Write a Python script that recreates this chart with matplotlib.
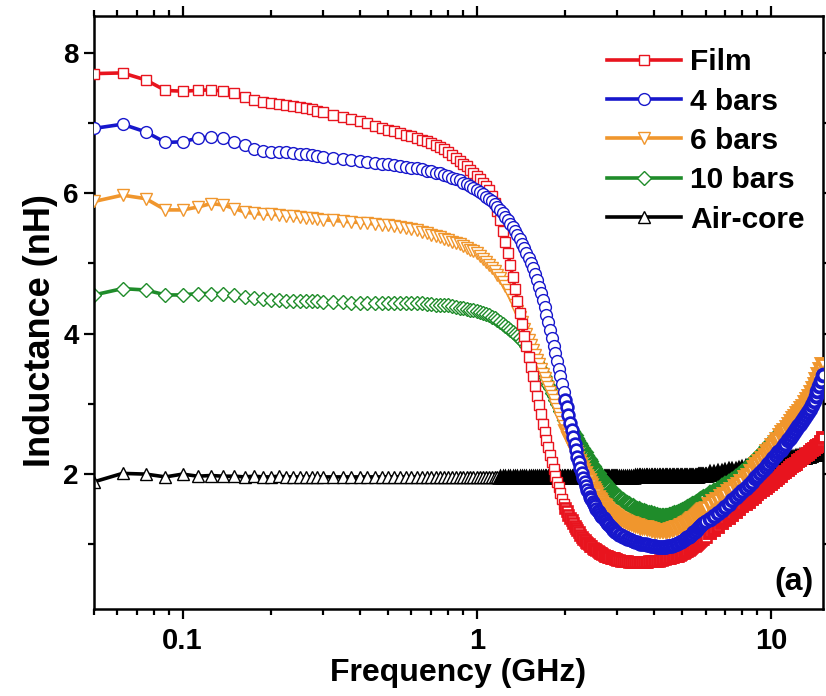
import numpy as np
import matplotlib
matplotlib.use("Agg")
import matplotlib.pyplot as plt
from matplotlib.ticker import FixedLocator, NullFormatter, LogLocator

# Frequency sweep (GHz), split into bands with their own step sizes
freq_low = np.round(np.concatenate([np.arange(0.05, 0.30001, 0.0125),    # 21
                                    np.arange(0.325, 0.60001, 0.025)]), 4)  # 12
freq_mid = np.round(np.arange(0.625, 3.00001, 0.025), 4)                 # 96
freq_dip = np.round(np.arange(3.05, 6.00001, 0.05), 4)                   # 60
freq_high = np.round(np.arange(6.2, 15.0001, 0.2), 4)                    # 45

series_names = ["Film", "4 bars", "6 bars", "10 bars", "Air-core"]

# ---- Film ----
film_low = [7.70, 7.71, 7.61, 7.46, 7.45, 7.46, 7.47, 7.45, 7.42, 7.37, 7.32, 7.30, 7.28, 7.27, 7.26, 7.24, 7.22, 7.21, 7.19, 7.17, 7.15,
            7.11, 7.08, 7.05, 7.02, 6.99, 6.96, 6.93, 6.90, 6.88, 6.86, 6.83, 6.81]
film_mid = [6.79, 6.76, 6.74, 6.71, 6.68, 6.65, 6.62, 6.58, 6.54, 6.50,
            6.46, 6.42, 6.38, 6.33, 6.29, 6.24, 6.20, 6.15, 6.10, 6.04,
            5.96, 5.86, 5.74, 5.61, 5.46, 5.31, 5.15, 4.98, 4.81, 4.64,
            4.47, 4.30, 4.13, 3.97, 3.82, 3.67, 3.53, 3.39, 3.25, 3.11,
            2.98, 2.85, 2.72, 2.60, 2.49, 2.38, 2.27, 2.17, 2.07, 1.98,
            1.89, 1.81, 1.73, 1.65, 1.58, 1.52, 1.47, 1.42, 1.38, 1.34,
            1.30, 1.26, 1.23, 1.20, 1.17, 1.14, 1.11, 1.08, 1.06, 1.04,
            1.02, 1.00, 0.98, 0.97, 0.95, 0.94, 0.93, 0.92, 0.91, 0.89,
            0.88, 0.87, 0.86, 0.85, 0.84, 0.84, 0.83, 0.82, 0.82, 0.81,
            0.81, 0.80, 0.80, 0.79, 0.79, 0.78]
film_dip = [0.78, 0.77, 0.77, 0.76, 0.76, 0.75, 0.75, 0.75, 0.75, 0.75,
            0.75, 0.75, 0.75, 0.75, 0.75, 0.75, 0.76, 0.76, 0.76, 0.76,
            0.77, 0.77, 0.77, 0.78, 0.78, 0.79, 0.79, 0.80, 0.80, 0.81,
            0.81, 0.82, 0.82, 0.83, 0.83, 0.84, 0.84, 0.85, 0.86, 0.87,
            0.88, 0.89, 0.90, 0.91, 0.92, 0.93, 0.95, 0.96, 0.97, 0.98,
            0.99, 1.00, 1.02, 1.03, 1.05, 1.06, 1.07, 1.08, 1.10, 1.11]
film_high = [1.16, 1.21, 1.25, 1.30, 1.34, 1.38, 1.42, 1.46, 1.50, 1.54,
             1.57, 1.61, 1.64, 1.68, 1.71, 1.74, 1.77, 1.80, 1.83, 1.86,
             1.89, 1.92, 1.95, 1.98, 2.01, 2.03, 2.06, 2.08, 2.11, 2.13,
             2.15, 2.18, 2.20, 2.23, 2.25, 2.27, 2.29, 2.31, 2.34, 2.36,
             2.38, 2.40, 2.42, 2.46, 2.52]

# ---- 4 bars ----
bars4_low = [6.92, 6.98, 6.87, 6.72, 6.73, 6.78, 6.80, 6.78, 6.73, 6.68, 6.62, 6.60, 6.59, 6.59, 6.58, 6.57, 6.56, 6.55, 6.54, 6.53, 6.52,
             6.50, 6.48, 6.47, 6.45, 6.44, 6.43, 6.42, 6.41, 6.40, 6.38, 6.37, 6.36]
bars4_mid = [6.35, 6.34, 6.32, 6.31, 6.29, 6.28, 6.26, 6.24, 6.22, 6.20,
             6.18, 6.15, 6.13, 6.10, 6.07, 6.04, 6.01, 5.98, 5.95, 5.92,
             5.88, 5.84, 5.80, 5.76, 5.71, 5.66, 5.61, 5.56, 5.51, 5.46,
             5.40, 5.34, 5.28, 5.22, 5.15, 5.08, 5.01, 4.93, 4.85, 4.76,
             4.67, 4.58, 4.48, 4.38, 4.27, 4.16, 4.05, 3.94, 3.83, 3.72,
             3.61, 3.50, 3.39, 3.28, 3.17, 3.06, 2.95, 2.84, 2.73, 2.63,
             2.53, 2.43, 2.34, 2.25, 2.17, 2.09, 2.02, 1.95, 1.89, 1.83,
             1.78, 1.73, 1.68, 1.64, 1.60, 1.57, 1.54, 1.51, 1.48, 1.46,
             1.43, 1.41, 1.39, 1.37, 1.35, 1.33, 1.31, 1.29, 1.27, 1.25,
             1.23, 1.21, 1.20, 1.18, 1.17, 1.16]
bars4_dip = [1.14, 1.13, 1.11, 1.10, 1.08, 1.07, 1.06, 1.05, 1.04, 1.03,
             1.02, 1.01, 1.01, 1.00, 1.00, 0.99, 0.99, 0.98, 0.98, 0.97,
             0.97, 0.96, 0.96, 0.96, 0.96, 0.96, 0.96, 0.96, 0.97, 0.97,
             0.98, 0.98, 0.99, 0.99, 1.00, 1.01, 1.02, 1.03, 1.04, 1.05,
             1.06, 1.07, 1.09, 1.10, 1.11, 1.12, 1.14, 1.15, 1.17, 1.18,
             1.20, 1.21, 1.23, 1.24, 1.26, 1.27, 1.29, 1.30, 1.32, 1.33]
bars4_high = [1.36, 1.40, 1.44, 1.49, 1.53, 1.58, 1.63, 1.67, 1.72, 1.76,
              1.80, 1.85, 1.89, 1.94, 1.98, 2.02, 2.06, 2.10, 2.15, 2.19,
              2.23, 2.27, 2.31, 2.35, 2.39, 2.43, 2.48, 2.52, 2.56, 2.60,
              2.64, 2.68, 2.72, 2.76, 2.80, 2.84, 2.88, 2.93, 2.98, 3.04,
              3.11, 3.18, 3.25, 3.33, 3.41]

# ---- 6 bars ----
bars6_low = [5.88, 5.97, 5.92, 5.76, 5.76, 5.80, 5.85, 5.83, 5.78, 5.73, 5.71, 5.70, 5.70, 5.69, 5.68, 5.67, 5.66, 5.65, 5.64, 5.63, 5.62,
             5.61, 5.60, 5.59, 5.58, 5.57, 5.56, 5.55, 5.54, 5.53, 5.51, 5.50, 5.49]
bars6_mid = [5.47, 5.45, 5.43, 5.41, 5.39, 5.37, 5.35, 5.33, 5.31, 5.29,
             5.27, 5.24, 5.22, 5.19, 5.17, 5.14, 5.10, 5.06, 5.02, 4.98,
             4.94, 4.89, 4.84, 4.79, 4.73, 4.68, 4.62, 4.55, 4.48, 4.40,
             4.32, 4.24, 4.16, 4.07, 3.99, 3.91, 3.84, 3.77, 3.70, 3.63,
             3.56, 3.50, 3.43, 3.37, 3.30, 3.24, 3.17, 3.11, 3.05, 2.98,
             2.92, 2.86, 2.80, 2.74, 2.68, 2.62, 2.57, 2.52, 2.47, 2.42,
             2.37, 2.32, 2.28, 2.23, 2.19, 2.14, 2.10, 2.06, 2.02, 1.98,
             1.95, 1.91, 1.87, 1.84, 1.80, 1.77, 1.74, 1.71, 1.68, 1.65,
             1.63, 1.60, 1.58, 1.56, 1.54, 1.52, 1.50, 1.48, 1.47, 1.46,
             1.44, 1.43, 1.42, 1.41, 1.40, 1.39]
bars6_dip = [1.38, 1.36, 1.35, 1.33, 1.32, 1.31, 1.30, 1.29, 1.28, 1.27,
             1.26, 1.25, 1.25, 1.24, 1.24, 1.23, 1.23, 1.22, 1.22, 1.21,
             1.21, 1.21, 1.20, 1.20, 1.20, 1.20, 1.20, 1.20, 1.21, 1.21,
             1.22, 1.22, 1.23, 1.23, 1.24, 1.24, 1.25, 1.26, 1.27, 1.28,
             1.29, 1.30, 1.31, 1.32, 1.33, 1.34, 1.36, 1.37, 1.38, 1.39,
             1.41, 1.42, 1.43, 1.44, 1.46, 1.47, 1.49, 1.50, 1.51, 1.52]
bars6_high = [1.56, 1.60, 1.63, 1.67, 1.70, 1.74, 1.77, 1.81, 1.85, 1.89,
              1.94, 1.98, 2.03, 2.08, 2.13, 2.17, 2.22, 2.26, 2.31, 2.35,
              2.40, 2.44, 2.49, 2.54, 2.58, 2.62, 2.66, 2.70, 2.74, 2.78,
              2.81, 2.85, 2.88, 2.92, 2.96, 3.01, 3.06, 3.10, 3.16, 3.21,
              3.27, 3.34, 3.41, 3.48, 3.55]

# ---- 10 bars ----
bars10_low = [4.55, 4.64, 4.62, 4.55, 4.55, 4.57, 4.57, 4.57, 4.55, 4.52, 4.50, 4.49, 4.48, 4.48, 4.47, 4.47, 4.47, 4.46, 4.46, 4.46, 4.45,
              4.45, 4.45, 4.44, 4.44, 4.44, 4.44, 4.44, 4.44, 4.44, 4.44, 4.43, 4.43]
bars10_mid = [4.43, 4.43, 4.42, 4.42, 4.41, 4.41, 4.40, 4.40, 4.39, 4.38,
              4.37, 4.36, 4.35, 4.34, 4.33, 4.32, 4.31, 4.29, 4.28, 4.26,
              4.24, 4.22, 4.20, 4.17, 4.14, 4.11, 4.08, 4.05, 4.02, 3.99,
              3.96, 3.93, 3.90, 3.86, 3.82, 3.78, 3.74, 3.69, 3.65, 3.60,
              3.55, 3.49, 3.44, 3.38, 3.33, 3.27, 3.22, 3.16, 3.11, 3.05,
              3.00, 2.95, 2.90, 2.86, 2.81, 2.77, 2.73, 2.69, 2.66, 2.62,
              2.58, 2.55, 2.51, 2.48, 2.44, 2.41, 2.37, 2.34, 2.31, 2.27,
              2.24, 2.21, 2.18, 2.15, 2.12, 2.09, 2.06, 2.03, 2.01, 1.98,
              1.96, 1.94, 1.92, 1.90, 1.88, 1.86, 1.84, 1.82, 1.80, 1.78,
              1.77, 1.75, 1.73, 1.72, 1.70, 1.69]
bars10_dip = [1.67, 1.65, 1.63, 1.61, 1.59, 1.57, 1.55, 1.54, 1.52, 1.51,
              1.50, 1.49, 1.48, 1.47, 1.46, 1.45, 1.44, 1.44, 1.43, 1.43,
              1.42, 1.42, 1.41, 1.41, 1.41, 1.41, 1.41, 1.41, 1.41, 1.42,
              1.42, 1.43, 1.43, 1.44, 1.44, 1.45, 1.46, 1.47, 1.48, 1.49,
              1.50, 1.51, 1.52, 1.53, 1.54, 1.55, 1.56, 1.57, 1.58, 1.59,
              1.60, 1.61, 1.62, 1.63, 1.64, 1.65, 1.66, 1.67, 1.68, 1.69]
bars10_high = [1.71, 1.74, 1.77, 1.81, 1.84, 1.87, 1.90, 1.94, 1.98, 2.02,
               2.06, 2.10, 2.14, 2.18, 2.22, 2.26, 2.30, 2.34, 2.38, 2.42,
               2.46, 2.50, 2.54, 2.58, 2.62, 2.65, 2.68, 2.72, 2.75, 2.78,
               2.81, 2.84, 2.88, 2.91, 2.95, 2.99, 3.04, 3.08, 3.14, 3.19,
               3.25, 3.31, 3.37, 3.44, 3.51]

# ---- Air-core ----
air_low = [1.89, 2.01, 2.00, 1.96, 2.00, 1.97, 1.98, 1.97, 1.97, 1.96, 1.97, 1.96, 1.96, 1.97, 1.96, 1.96, 1.96, 1.96, 1.96, 1.96, 1.96,
           1.96, 1.96, 1.96, 1.96, 1.96, 1.96, 1.96, 1.96, 1.96, 1.96, 1.96, 1.96]
air_mid = [1.96, 1.96, 1.96, 1.96, 1.96, 1.96, 1.96, 1.96, 1.96, 1.96,
           1.96, 1.96, 1.96, 1.96, 1.96, 1.96, 1.96, 1.96, 1.96, 1.96,
           1.96, 1.96, 1.96, 1.96, 1.96, 1.96, 1.96, 1.96, 1.96, 1.96,
           1.96, 1.96, 1.96, 1.96, 1.96, 1.96, 1.96, 1.96, 1.96, 1.96,
           1.96, 1.96, 1.96, 1.96, 1.96, 1.96, 1.96, 1.96, 1.96, 1.96,
           1.96, 1.96, 1.96, 1.96, 1.96, 1.96, 1.96, 1.96, 1.96, 1.96,
           1.96, 1.96, 1.96, 1.96, 1.96, 1.96, 1.96, 1.96, 1.96, 1.96,
           1.96, 1.96, 1.96, 1.96, 1.96, 1.96, 1.96, 1.96, 1.96, 1.96,
           1.96, 1.96, 1.96, 1.96, 1.96, 1.96, 1.96, 1.96, 1.96, 1.96,
           1.96, 1.96, 1.96, 1.96, 1.96, 1.96]
air_dip = [1.96, 1.96, 1.96, 1.96, 1.96, 1.96, 1.96, 1.96, 1.97, 1.97,
           1.97, 1.97, 1.97, 1.97, 1.97, 1.97, 1.97, 1.97, 1.97, 1.97,
           1.97, 1.97, 1.97, 1.97, 1.97, 1.97, 1.97, 1.97, 1.97, 1.97,
           1.97, 1.97, 1.97, 1.97, 1.98, 1.98, 1.98, 1.98, 1.98, 1.98,
           1.98, 1.98, 1.98, 1.98, 1.98, 1.98, 1.98, 1.98, 1.98, 1.98,
           1.98, 1.98, 1.99, 1.99, 1.99, 1.99, 1.99, 1.99, 1.99, 1.99]
air_high = [2.00, 2.00, 2.01, 2.02, 2.03, 2.04, 2.05, 2.05, 2.06, 2.07,
            2.08, 2.09, 2.09, 2.10, 2.11, 2.12, 2.12, 2.13, 2.14, 2.15,
            2.16, 2.16, 2.17, 2.18, 2.19, 2.19, 2.20, 2.21, 2.21, 2.22,
            2.23, 2.23, 2.24, 2.25, 2.25, 2.26, 2.26, 2.27, 2.28, 2.28,
            2.29, 2.29, 2.30, 2.30, 2.31]

freq = np.concatenate([freq_low, freq_mid, freq_dip, freq_high])
series_values = [
    film_low + film_mid + film_dip + film_high,
    bars4_low + bars4_mid + bars4_dip + bars4_high,
    bars6_low + bars6_mid + bars6_dip + bars6_high,
    bars10_low + bars10_mid + bars10_dip + bars10_high,
    air_low + air_mid + air_dip + air_high,
]

colors = ["#e8141e", "#1717cc", "#f0962d", "#1f8c2a", "#000000"]
markers = ["s", "o", "v", "D", "^"]
marker_sizes = [7.5, 8.5, 9.0, 7.0, 9.0]
zorders = [4, 5, 3, 2, 1]
# above this frequency the closely packed symbols merge into a band
dense_from = [2.0, 2.0, 2.0, 2.0, 1.2]
band_fill = ["white", "white", "white", "white", "black"]

plt.rcParams["font.family"] = ["Liberation Sans", "DejaVu Sans"]
plt.rcParams["font.weight"] = "bold"

fig = plt.figure(figsize=(8.26, 6.96), dpi=100)
ax = fig.add_axes([94 / 826, 1 - 609 / 696, (822.7 - 94) / 826, (609 - 16) / 696])

handles = []
for name, vals, c, m, ms, z, fd, bf in zip(series_names, series_values, colors, markers,
                                           marker_sizes, zorders, dense_from, band_fill):
    n = min(len(freq), len(vals))
    f = freq[:n]
    y = np.asarray(vals[:n])
    sparse = f < fd
    mid = (~sparse) & (f < 6.1)
    top = f >= 6.1
    h, = ax.plot(f, y, color=c, lw=2.6, marker=m, ms=ms, markevery=list(np.nonzero(sparse)[0]),
                 mfc="white", mec=c, mew=1.0, label=name, zorder=z)
    ax.plot(f[mid], y[mid], ls="none", marker=m, ms=ms,
            mfc=bf, mec=c, mew=1.9, zorder=z)
    ax.plot(f[top], y[top], ls="none", marker=m, ms=ms,
            mfc=bf, mec=c, mew=2.8, zorder=z)
    handles.append(h)

ax.set_xscale("log")
ax.set_xlim(0.05, 15)
ax.set_ylim(0.08, 8.52)

ax.xaxis.set_major_locator(FixedLocator([0.1, 1, 10]))
ax.set_xticklabels(["0.1", "1", "10"])
ax.xaxis.set_minor_locator(LogLocator(base=10, subs=np.arange(2, 10), numticks=20))
ax.xaxis.set_minor_formatter(NullFormatter())
ax.yaxis.set_major_locator(FixedLocator([2, 4, 6, 8]))
ax.yaxis.set_minor_locator(FixedLocator([1, 3, 5, 7]))

ax.tick_params(which="both", direction="out", top=True, right=True, width=1.6)
ax.tick_params(which="major", length=7)
ax.tick_params(which="minor", length=4.5)
ax.tick_params(axis="x", which="major", labelsize=21, pad=6)
ax.tick_params(axis="y", which="major", labelsize=20, pad=4)
for lab in ax.get_xticklabels() + ax.get_yticklabels():
    lab.set_fontweight("bold")
for sp in ax.spines.values():
    sp.set_linewidth(1.8)

ax.set_xlabel("Frequency (GHz)", fontsize=23, fontweight="bold", labelpad=2)
ax.set_ylabel("Inductance (nH)", fontsize=26, fontweight="bold")
ax.yaxis.set_label_coords(-0.05, 0.47)

leg = ax.legend(handles=handles, loc="upper right", bbox_to_anchor=(1.004, 0.981),
                frameon=False, fontsize=21.5, handlelength=2.5, handletextpad=0.3,
                labelspacing=0.38, borderaxespad=0.3)
for t in leg.get_texts():
    t.set_fontweight("bold")

ax.text(0.988, 0.045, "(a)", transform=ax.transAxes, ha="right", va="center",
        fontsize=23, fontweight="bold")

fig.savefig("out.png", dpi=100)
